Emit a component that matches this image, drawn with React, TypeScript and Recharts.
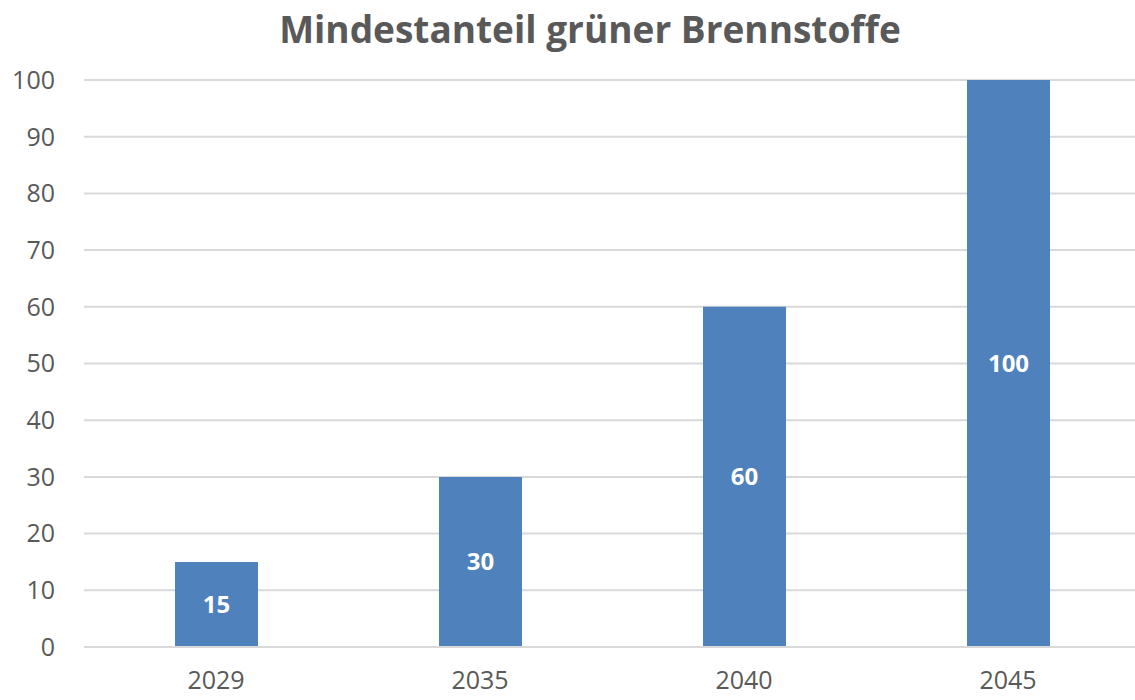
import React from 'react';
import { BarChart, Bar, XAxis, YAxis, CartesianGrid, LabelList } from 'recharts';

const years = ['2029', '2035', '2040', '2045'];
const shares = [15, 30, 60, 100];
const yTicks = [0, 10, 20, 30, 40, 50, 60, 70, 80, 90, 100];
const title = 'Mindestanteil grüner Brennstoffe';

const data = years.map((y, i) => ({ year: y, value: shares[i] }));

export default function App() {
  return (
    <div style={{ position: 'absolute', left: 0, top: 0, width: 1135, height: 700, overflow: 'hidden', background: '#fff', fontFamily: '"Open Sans", sans-serif' }}>
      <div style={{ position: 'absolute', left: 0, width: 1180, top: 3, textAlign: 'center', fontSize: 37, fontWeight: 700, color: '#595959' }}>{title}</div>
      <BarChart width={1140} height={700} data={data} margin={{ top: 80, right: 0, bottom: 0, left: 0 }} barCategoryGap={0}>
        <CartesianGrid vertical={false} stroke="#D9D9D9" strokeWidth={2} />
        <XAxis dataKey="year" axisLine={{ stroke: '#D9D9D9', strokeWidth: 2 }} tickLine={false} tickSize={0} tickMargin={24} tick={{ fill: '#595959', fontSize: 25 }} height={53} />
        <YAxis domain={[0, 100]} ticks={yTicks} axisLine={false} tickLine={false} tickSize={0} tickMargin={29} width={84} tick={{ fill: '#595959', fontSize: 25 }} interval={0} />
        <Bar dataKey="value" fill="#4F81BD" barSize={83} isAnimationActive={false}>
          <LabelList dataKey="value" position="center" fill="#ffffff" fontSize={24} fontWeight={700} />
        </Bar>
      </BarChart>
    </div>
  );
}
